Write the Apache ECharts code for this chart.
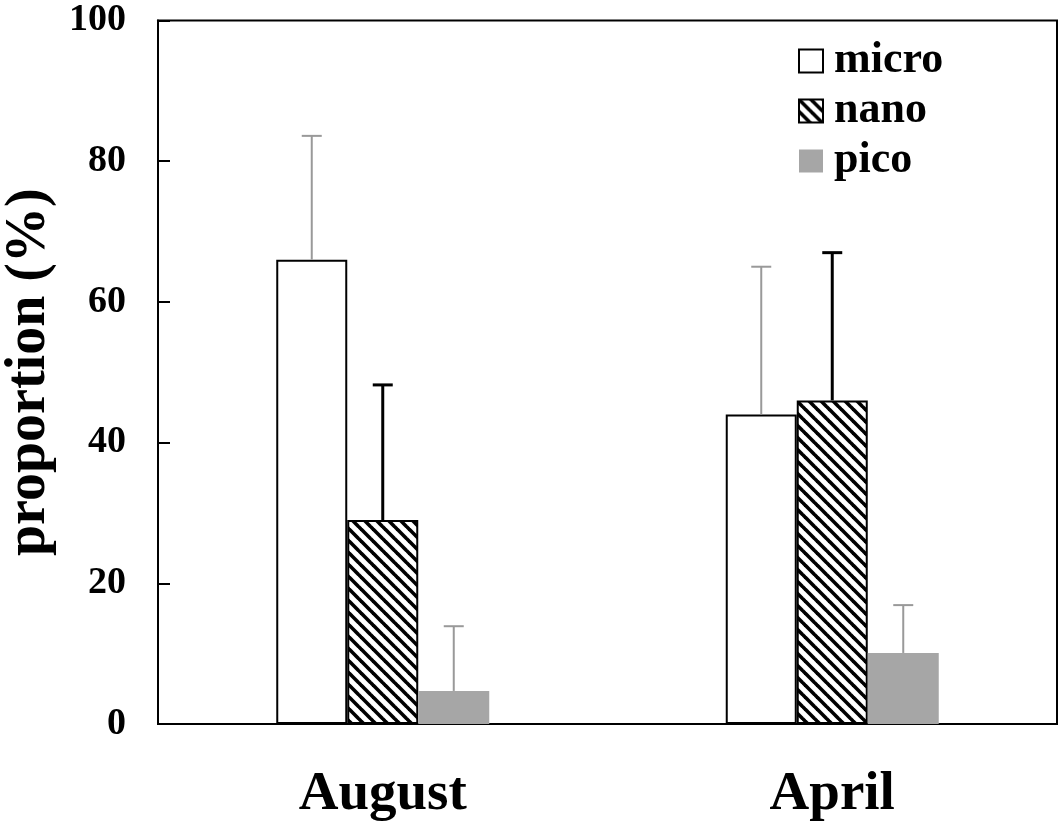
<!DOCTYPE html>
<html>
<head>
<meta charset="utf-8">
<script src="https://cdn.jsdelivr.net/npm/echarts@6/dist/echarts.min.js"></script>
<style>html,body{margin:0;padding:0;background:#fff;}#c{width:1063px;height:826px;}</style>
</head>
<body>
<div id="c"></div>
<script>
// ---- data ----
var categories = ['August', 'April'];
var seriesNames = ['micro', 'nano', 'pico'];
var microVals = [66, 44];
var microErr = [17.6, 21];
var nanoVals = [29, 46];
var nanoErr = [19.2, 21];
var picoVals = [4.7, 10.1];
var picoErr = [9.2, 6.8];
var yTicks = [0, 20, 40, 60, 80, 100];

// ---- styles ----
var FONT = 'Liberation Serif';
var BAR_W = 71;

function hatch() {
  var S = 12;
  var c = document.createElement('canvas');
  c.width = S; c.height = S;
  var g = c.getContext('2d');
  g.fillStyle = '#fff';
  g.fillRect(0, 0, S, S);
  g.strokeStyle = '#000';
  g.lineWidth = 3.6;
  [-S, 0, S].forEach(function (o) {
    g.beginPath();
    g.moveTo(o - 1, -1);
    g.lineTo(o + S + 1, S + 1);
    g.stroke();
  });
  return { image: c, repeat: 'repeat' };
}

function errSeries(idx, vals, errs, color, width) {
  return {
    type: 'custom',
    name: seriesNames[idx] + '_err',
    z: 5,
    silent: true,
    data: vals.map(function (v, i) { return [i, v, v + errs[i]]; }),
    renderItem: function (params, api) {
      var lo = api.coord([api.value(0), api.value(1)]);
      var hi = api.coord([api.value(0), api.value(2)]);
      var x = lo[0] + (idx - 1) * BAR_W;
      var cap = 10;
      return {
        type: 'group',
        children: [
          { type: 'line', shape: { x1: x, y1: lo[1], x2: x, y2: hi[1] }, style: { stroke: color, lineWidth: width } },
          { type: 'line', shape: { x1: x - cap, y1: hi[1], x2: x + cap, y2: hi[1] }, style: { stroke: color, lineWidth: width } }
        ]
      };
    }
  };
}

var chart = echarts.init(document.getElementById('c'));
chart.setOption({
  backgroundColor: '#fff',
  animation: false,
  grid: {
    left: 158, right: 6, top: 20.5, bottom: 102,
    containLabel: false, outerBoundsMode: 'none',
    show: true, borderColor: '#000', borderWidth: 2, backgroundColor: 'transparent'
  },
  legend: {
    data: seriesNames,
    orient: 'vertical',
    left: 793, top: 34,
    icon: 'rect',
    itemWidth: 24, itemHeight: 23,
    itemGap: 6,
    textStyle: { fontFamily: FONT, fontWeight: 'bold', fontSize: 44, color: '#000', padding: [0, 0, 0, 6] }
  },
  xAxis: {
    type: 'category',
    data: categories,
    axisLine: { show: true, lineStyle: { color: '#000', width: 2 } },
    axisTick: { show: false },
    axisLabel: { fontFamily: FONT, fontWeight: 'bold', fontSize: 55, color: '#000', margin: 43 },
    splitLine: { show: false }
  },
  yAxis: {
    type: 'value',
    min: yTicks[0], max: yTicks[yTicks.length - 1], interval: yTicks[1] - yTicks[0],
    name: 'proportion (%)',
    nameLocation: 'middle',
    nameGap: 100,
    nameTextStyle: { fontFamily: FONT, fontWeight: 'bold', fontSize: 56, color: '#000' },
    axisLine: { show: true, lineStyle: { color: '#000', width: 2 } },
    axisTick: { show: true, inside: true, length: 12, lineStyle: { color: '#000', width: 2 } },
    axisLabel: { fontFamily: FONT, fontWeight: 'bold', fontSize: 38, color: '#000', margin: 32 },
    splitLine: { show: false }
  },
  series: [
    { type: 'bar', name: 'micro', data: microVals, barWidth: BAR_W, barGap: '0%',
      itemStyle: { color: '#fff', borderColor: '#000', borderWidth: 2 } },
    { type: 'bar', name: 'nano', data: nanoVals, barWidth: BAR_W, barGap: '0%',
      itemStyle: { color: hatch(), borderColor: '#000', borderWidth: 2 } },
    { type: 'bar', name: 'pico', data: picoVals, barWidth: BAR_W, barGap: '0%',
      itemStyle: { color: '#a6a6a6', borderWidth: 0 } },
    errSeries(0, microVals, microErr, '#999999', 2),
    errSeries(1, nanoVals, nanoErr, '#000000', 3),
    errSeries(2, picoVals, picoErr, '#999999', 2)
  ]
});
</script>
</body>
</html>
